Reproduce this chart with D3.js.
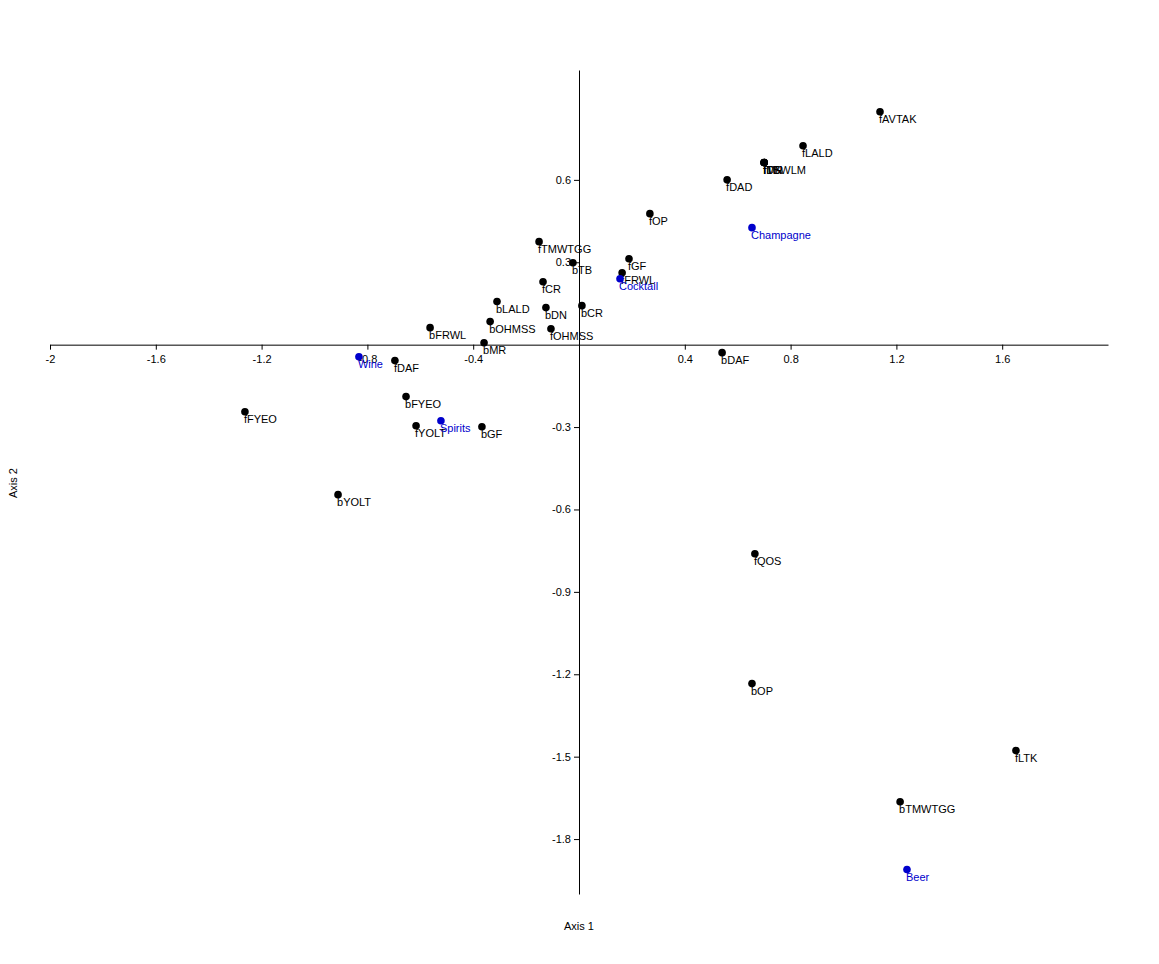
<!DOCTYPE html>
<html>
<head>
<meta charset="utf-8">
<script src="https://cdn.jsdelivr.net/npm/d3@7"></script>
<style>
  body { margin: 0; background: #fff; }
  text { font-family: "Liberation Sans", Arial, sans-serif; font-size: 11px; }
</style>
</head>
<body>
<script>
// point labels and coordinates (axis 1, axis 2)
const pointNames = ["fAVTAK", "fLALD", "fDN", "fTB", "fMR", "fTSWLM", "fDAD", "fOP", "fTMWTGG", "bTB", "fGF",
  "fFRWL", "fCR", "bLALD", "bDN", "bCR", "bFRWL", "bOHMSS", "fOHMSS", "bMR", "bDAF",
  "fDAF", "fFYEO", "bFYEO", "fYOLT", "bGF", "bYOLT", "fQOS", "bOP", "fLTK", "bTMWTGG"];
const pointX = [1.138, 0.847, 0.70, 0.70, 0.70, 0.70, 0.56, 0.268, -0.151, -0.023, 0.189,
  0.163, -0.136, -0.31, -0.125, 0.011, -0.563, -0.336, -0.106, -0.359, 0.541,
  -0.696, -1.263, -0.654, -0.616, -0.367, -0.911, 0.665, 0.654, 1.652, 1.214];
const pointY = [0.848, 0.724, 0.663, 0.663, 0.663, 0.663, 0.60, 0.477, 0.375, 0.298, 0.313,
  0.262, 0.229, 0.157, 0.135, 0.142, 0.062, 0.084, 0.058, 0.007, -0.029,
  -0.058, -0.244, -0.189, -0.295, -0.299, -0.546, -0.761, -1.234, -1.478, -1.664];

// drink categories (blue)
const drinkNames = ["Champagne", "Cocktail", "Wine", "Spirits", "Beer"];
const drinkX = [0.654, 0.155, -0.832, -0.522, 1.240];
const drinkY = [0.426, 0.240, -0.044, -0.277, -1.911];

const xTicks = [-2, -1.6, -1.2, -0.8, -0.4, 0.4, 0.8, 1.2, 1.6];
const yTicks = [-1.8, -1.5, -1.2, -0.9, -0.6, -0.3, 0.3, 0.6];

const width = 1159, height = 964;
const blue = "#0000cc";

const svg = d3.select("body").append("svg")
  .attr("width", width)
  .attr("height", height);

const x = d3.scaleLinear().domain([-2, 2]).range([50, 1108]);
const y = d3.scaleLinear().domain([-2, 1]).range([894, 70]);

//plain hyphen minus, like the original
const fmt = d => String(+d.toFixed(1));

//horizontal axis through y = 0
svg.append("g")
  .attr("transform", "translate(0," + y(0) + ")")
  .call(d3.axisBottom(x).tickValues(xTicks).tickSize(5).tickSizeOuter(0).tickFormat(fmt))
  .call(g => g.select(".domain").attr("stroke", "#000"))
  .call(g => g.selectAll("text").attr("font-size", 11).attr("font-family", "Liberation Sans, Arial").attr("dy", "0.9em"));

//vertical axis through x = 0
svg.append("g")
  .attr("transform", "translate(" + x(0) + ",0)")
  .call(d3.axisLeft(y).tickValues(yTicks).tickSize(5).tickSizeOuter(0).tickFormat(fmt))
  .call(g => g.select(".domain").attr("stroke", "#000"))
  .call(g => g.selectAll("text").attr("font-size", 11).attr("font-family", "Liberation Sans, Arial"));

//axis titles
svg.append("text")
  .attr("x", x(0))
  .attr("y", 930)
  .attr("text-anchor", "middle")
  .attr("font-size", 11)
  .text("Axis 1");

svg.append("text")
  .attr("transform", "translate(17," + 483 + ") rotate(-90)")
  .attr("text-anchor", "middle")
  .attr("font-size", 11)
  .text("Axis 2");

const points = pointNames.map((n, i) => ({ name: n, x: pointX[i], y: pointY[i], color: "#000" }));
const drinks = drinkNames.map((n, i) => ({ name: n, x: drinkX[i], y: drinkY[i], color: blue }));

function drawPoints(data) {
  const g = svg.append("g")
    .selectAll("g")
    .data(data)
    .enter()
    .append("g");

  g.append("circle")
    .attr("cx", d => x(d.x))
    .attr("cy", d => y(d.y))
    .attr("r", 3.8)
    .style("fill", d => d.color);

  g.append("text")
    .attr("x", d => x(d.x) - 1)
    .attr("y", d => y(d.y) + 11)
    .style("fill", d => d.color)
    .text(d => d.name);
}

drawPoints(points);
drawPoints(drinks);
</script>
</body>
</html>
